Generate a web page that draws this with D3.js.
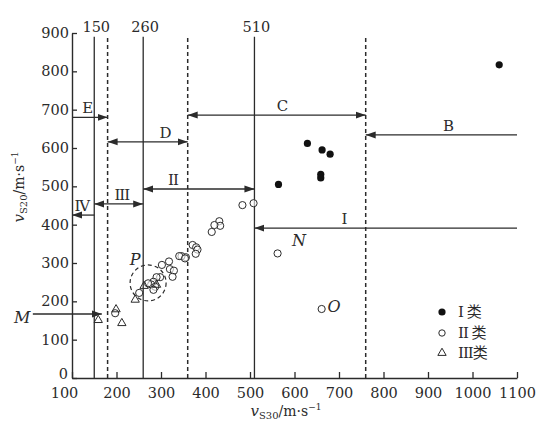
<!DOCTYPE html>
<html>
<head>
<meta charset="utf-8">
<script src="https://cdn.jsdelivr.net/npm/d3@7"></script>
<style>
  body { margin: 0; background: #fff; }
  svg { display: block; }
</style>
</head>
<body>
<div id="chart"></div>
<script>
// axis ticks
const xTicks = [100, 200, 300, 400, 500, 600, 700, 800, 900, 1000, 1100];
const yTicks = [0, 100, 200, 300, 400, 500, 600, 700, 800, 900];

// measured sites (vS30, vS20)
const classI = [[1060, 817], [629, 612], [662, 595], [680, 584], [659, 531], [659, 522], [564, 505]];
const classII = [
    [508, 456], [483, 451], [431, 409], [433, 397], [420, 399], [414, 381],
    [371, 347], [379, 341], [382, 335], [378, 324], [356, 315], [346, 318],
    [341, 318], [354, 312], [318, 304], [320, 284], [329, 280], [326, 264],
    [302, 295], [298, 263], [290, 263], [283, 251], [278, 244], [287, 238],
    [283, 230], [271, 247], [251, 222],
    [562, 325], [661, 180], [197, 169]
];
const classIII = [[159, 151], [199, 179], [212, 143], [242, 204], [262, 240], [290, 243]];

// boundary lines (vS30)
const solidLines = [150, 260, 510];
const dashedLines = [180, 360, 760];

// zone arrows: from -> to along vS30 at height v
const zoneNames = ["E", "D", "C", "B", "I", "II", "III", "IV"];
const zoneFrom = [100, 180, 360, 1100, 1100, 260, 150, 150];
const zoneTo = [180, 360, 760, 760, 510, 510, 260, 100];
const zoneV = [680, 616, 686, 634, 391, 493, 454, 425];
const zoneBoth = [false, true, true, false, false, true, true, false];
const zoneLabelX = [134, 309, 572, 945, 711, 327, 212, 122];

// italic point labels
const markNames = ["M", "N", "O", "P"];
const markX = [-12, 610, 689, 242];
const markV = [159, 360, 188, 310];
const mArrow = { from: 12, to: 167, v: 167 };
const pCircle = { x: 271, v: 248 };

const legendNames = ["I 类", "II 类", "III类"];

const width = 546, height = 421;
const ink = "#2b2b2b";
const serif = "'DejaVu Serif', 'Liberation Serif', serif";

let svg = d3.select("#chart").append("svg")
    .attr("width", width)
    .attr("height", height)
    .attr("font-family", serif);

let x = d3.scaleLinear().domain([100, 1100]).range([72, 517]);
let y = d3.scaleLinear().domain([0, 900]).range([378, 33]);

let defs = svg.append("defs");
defs.append("marker")
    .attr("id", "head")
    .attr("viewBox", "0 -4 10 8")
    .attr("refX", 10)
    .attr("refY", 0)
    .attr("markerWidth", 10)
    .attr("markerHeight", 8)
    .attr("markerUnits", "userSpaceOnUse")
    .attr("orient", "auto-start-reverse")
    .append("path")
    .attr("d", "M0,-3.5L10,0L0,3.5Z")
    .attr("fill", ink);

// axes
let xAxis = svg.append("g")
    .attr("transform", `translate(0,${y(0)})`)
    .call(d3.axisBottom(x).tickValues(xTicks).tickFormat(d3.format("d"))
        .tickSizeInner(-6).tickSizeOuter(0).tickPadding(10));
let yAxis = svg.append("g")
    .attr("transform", `translate(${x(100)},0)`)
    .call(d3.axisLeft(y).tickValues(yTicks).tickFormat(d3.format("d"))
        .tickSizeInner(-5).tickSizeOuter(0).tickPadding(3));
[xAxis, yAxis].forEach(a => {
    a.select(".domain").attr("stroke", ink).attr("stroke-width", 1.4);
    a.selectAll(".tick line").attr("stroke", ink).attr("stroke-width", 1.3);
    a.selectAll(".tick text")
        .attr("fill", ink)
        .attr("font-size", "14.5px")
        .attr("font-family", serif);
});
xAxis.selectAll(".tick text").filter(d => d === 100).attr("dx", "-8");
yAxis.selectAll(".tick text").filter(d => d === 0).attr("dy", "0.05em").attr("dx", "-1");

// axis titles
let xTitle = svg.append("text")
    .attr("x", 286)
    .attr("y", 416)
    .attr("text-anchor", "middle")
    .attr("fill", ink)
    .attr("font-size", "14px");
xTitle.append("tspan").attr("font-style", "italic").attr("font-size", "15px").text("v");
xTitle.append("tspan").attr("font-size", "10px").attr("dy", 3).text("S30");
xTitle.append("tspan").attr("dy", -3).text("/m·s");
xTitle.append("tspan").attr("font-size", "9px").attr("dy", -6).text("−1");

let yTitle = svg.append("text")
    .attr("transform", "translate(24,187) rotate(-90)")
    .attr("text-anchor", "middle")
    .attr("fill", ink)
    .attr("font-size", "14px");
yTitle.append("tspan").attr("font-style", "italic").attr("font-size", "15px").text("v");
yTitle.append("tspan").attr("font-size", "10px").attr("dy", 3).text("S20");
yTitle.append("tspan").attr("dy", -3).text("/m·s");
yTitle.append("tspan").attr("font-size", "9px").attr("dy", -6).text("−1");

// boundary lines
svg.append("g").selectAll("line")
    .data(solidLines)
    .join("line")
    .attr("x1", d => x(d)).attr("x2", d => x(d))
    .attr("y1", y(0)).attr("y2", y(890))
    .attr("stroke", ink)
    .attr("stroke-width", 1.3);
svg.append("g").selectAll("text")
    .data(solidLines)
    .join("text")
    .attr("x", d => x(d) + 2)
    .attr("y", 32)
    .attr("text-anchor", "middle")
    .attr("fill", ink)
    .attr("font-size", "14.5px")
    .text(d => d);
svg.append("g").selectAll("line")
    .data(dashedLines)
    .join("line")
    .attr("x1", d => x(d)).attr("x2", d => x(d))
    .attr("y1", y(0)).attr("y2", y(887))
    .attr("stroke", ink)
    .attr("stroke-width", 1.5)
    .attr("stroke-dasharray", "4,3");

// zone arrows
let zones = zoneNames.map((n, i) => ({
    name: n, from: zoneFrom[i], to: zoneTo[i], v: zoneV[i], both: zoneBoth[i], lx: zoneLabelX[i]
}));
let za = svg.append("g");
za.selectAll("line")
    .data(zones)
    .join("line")
    .attr("x1", d => x(d.from)).attr("x2", d => x(d.to))
    .attr("y1", d => y(d.v)).attr("y2", d => y(d.v))
    .attr("stroke", ink)
    .attr("stroke-width", 1.3)
    .attr("marker-end", "url(#head)")
    .attr("marker-start", d => d.both ? "url(#head)" : null);
za.selectAll("text")
    .data(zones)
    .join("text")
    .attr("x", d => x(d.lx))
    .attr("y", d => y(d.v) - 4)
    .attr("text-anchor", "middle")
    .attr("fill", ink)
    .attr("font-size", "15px")
    .attr("letter-spacing", "-1")
    .text(d => d.name);

// M arrow
svg.append("line")
    .attr("x1", x(mArrow.from)).attr("x2", x(mArrow.to))
    .attr("y1", y(mArrow.v)).attr("y2", y(mArrow.v))
    .attr("stroke", ink)
    .attr("stroke-width", 1.3)
    .attr("marker-end", "url(#head)");

// dashed circle around P
svg.append("circle")
    .attr("cx", x(pCircle.x))
    .attr("cy", y(pCircle.v))
    .attr("r", 18)
    .attr("fill", "none")
    .attr("stroke", ink)
    .attr("stroke-width", 1.2)
    .attr("stroke-dasharray", "4,3");

// points
let tri = d3.symbol().type(d3.symbolTriangle).size(30);
svg.append("g").selectAll("circle")
    .data(classII)
    .join("circle")
    .attr("cx", d => x(d[0]))
    .attr("cy", d => y(d[1]))
    .attr("r", 3.6)
    .attr("fill", "#fff")
    .attr("fill-opacity", 0.6)
    .attr("stroke", ink)
    .attr("stroke-width", 1);
svg.append("g").selectAll("path")
    .data(classIII)
    .join("path")
    .attr("transform", d => `translate(${x(d[0])},${y(d[1])})`)
    .attr("d", tri)
    .attr("fill", "none")
    .attr("stroke", ink)
    .attr("stroke-width", 1);
svg.append("g").selectAll("circle")
    .data(classI)
    .join("circle")
    .attr("cx", d => x(d[0]))
    .attr("cy", d => y(d[1]))
    .attr("r", 3.6)
    .attr("fill", "#111");

// point labels
svg.append("g").selectAll("text")
    .data(markNames)
    .join("text")
    .attr("x", (d, i) => x(markX[i]))
    .attr("y", (d, i) => y(markV[i]))
    .attr("dy", "0.35em")
    .attr("text-anchor", "middle")
    .attr("fill", ink)
    .attr("font-size", "16px")
    .attr("font-style", "italic")
    .text(d => d);

// legend
let legend = svg.append("g").attr("transform", "translate(442,312)");
legend.append("circle").attr("cx", 0).attr("cy", 0).attr("r", 3.6).attr("fill", "#111");
legend.append("circle").attr("cx", 0).attr("cy", 21).attr("r", 3.2)
    .attr("fill", "none").attr("stroke", ink).attr("stroke-width", 1);
legend.append("path").attr("transform", "translate(0,41)").attr("d", tri)
    .attr("fill", "none").attr("stroke", ink).attr("stroke-width", 1);
legend.selectAll("text")
    .data(legendNames)
    .join("text")
    .attr("x", 16)
    .attr("y", (d, i) => i * 20.5)
    .attr("dy", "0.35em")
    .attr("fill", ink)
    .attr("font-size", "15px")
    .attr("font-family", "'DejaVu Serif', 'Noto Sans CJK SC', serif")
    .attr("letter-spacing", "-1")
    .text(d => d);
</script>
</body>
</html>
